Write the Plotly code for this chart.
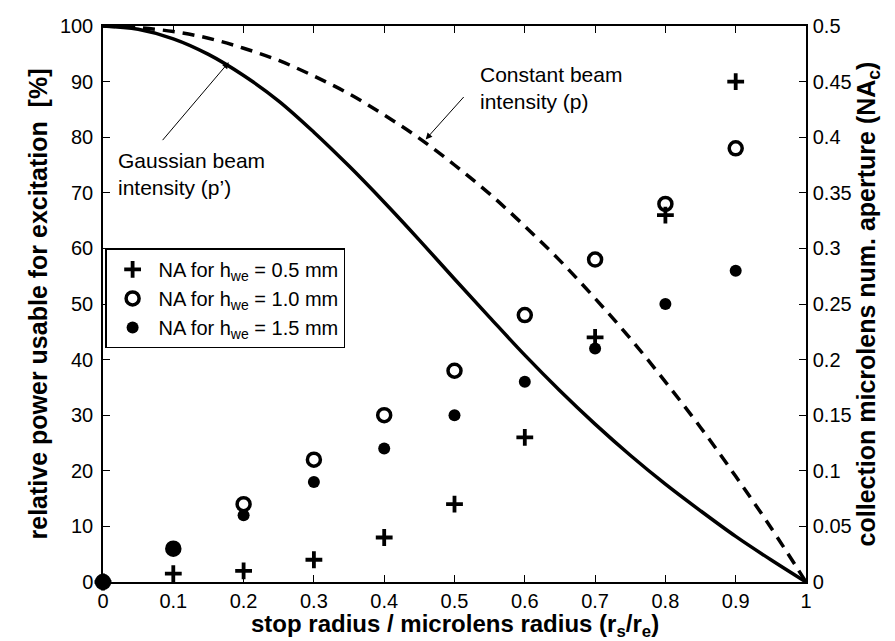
import plotly.graph_objects as go

# ---- data ----
ratio = [0.0, 0.1, 0.2, 0.3, 0.4, 0.5, 0.6, 0.7, 0.8, 0.9]
na_h05 = [0.0, 0.0075, 0.01, 0.02, 0.04, 0.07, 0.13, 0.22, 0.33, 0.45]
na_h10 = [0.0, 0.03, 0.07, 0.11, 0.15, 0.19, 0.24, 0.29, 0.34, 0.39]
na_h15 = [0.0, 0.03, 0.06, 0.09, 0.12, 0.15, 0.18, 0.21, 0.25, 0.28]

curve_x = [0.0, 0.05, 0.1, 0.15, 0.2, 0.25, 0.3, 0.35, 0.4, 0.45, 0.5,
           0.55, 0.6, 0.65, 0.7, 0.75, 0.8, 0.85, 0.9, 0.95, 1.0]
p_constant = [100, 99.7, 99, 97.8, 96, 93.8, 91, 87.8, 84, 79.8, 75,
              69.8, 64, 57.8, 51, 43.8, 36, 27.8, 19, 9.8, 0]
p_gaussian = [100, 99.4, 97.7, 94.9, 91.1, 86.5, 80.9, 74.8, 68.3, 61.5, 54.5,
              47.6, 40.8, 34.4, 28.4, 22.8, 17.6, 12.8, 8.2, 4.0, 0]

x_ticks = [0, 0.1, 0.2, 0.3, 0.4, 0.5, 0.6, 0.7, 0.8, 0.9, 1]
x_ticktext = ["0", "0.1", "0.2", "0.3", "0.4", "0.5", "0.6", "0.7", "0.8", "0.9", "1"]
y_ticks = [0, 10, 20, 30, 40, 50, 60, 70, 80, 90, 100]
y2_ticks = [0, 0.05, 0.1, 0.15, 0.2, 0.25, 0.3, 0.35, 0.4, 0.45, 0.5]
y2_ticktext = ["0", "0.05", "0.1", "0.15", "0.2", "0.25", "0.3", "0.35", "0.4", "0.45", "0.5"]

FONT = "Liberation Sans, Arial, Helvetica, sans-serif"
TICK = 20
TITLE = 25

fig = go.Figure()

fig.add_trace(go.Scatter(x=curve_x, y=p_gaussian, mode="lines", yaxis="y",
                         line=dict(color="black", width=3.5, shape="spline"),
                         showlegend=False, hoverinfo="skip"))
fig.add_trace(go.Scatter(x=curve_x, y=p_constant, mode="lines", yaxis="y",
                         line=dict(color="black", width=3.5, dash="12px,8px", shape="spline"),
                         showlegend=False, hoverinfo="skip"))

fig.add_trace(go.Scatter(x=ratio, y=na_h05, mode="markers", yaxis="y2",
                         name="NA for h<sub>we</sub> = 0.5 mm", cliponaxis=False,
                         marker=dict(symbol="cross-thin", size=12, color="black",
                                     line=dict(color="black", width=3.8))))
fig.add_trace(go.Scatter(x=ratio, y=na_h10, mode="markers", yaxis="y2",
                         name="NA for h<sub>we</sub> = 1.0 mm", cliponaxis=False,
                         marker=dict(symbol="circle-open", size=13, color="black",
                                     line=dict(color="black", width=3.5))))
fig.add_trace(go.Scatter(x=ratio, y=na_h15, mode="markers", yaxis="y2",
                         name="NA for h<sub>we</sub> = 1.5 mm", cliponaxis=False,
                         marker=dict(symbol="circle", size=12, color="black")))

ann_font = dict(family=FONT, size=21, color="black")
axis_common = dict(ticks="inside", ticklen=7, tickcolor="black", tickwidth=1,
                   showline=True, linecolor="black", linewidth=1.5,
                   showgrid=False, zeroline=False, automargin=False,
                   tickfont=dict(family=FONT, size=TICK, color="black"))

fig.update_layout(
    template="none",
    width=895, height=641,
    margin=dict(l=95, r=97, t=18, b=67, autoexpand=False),
    paper_bgcolor="white", plot_bgcolor="white",
    font=dict(family=FONT, size=TICK, color="black"),
    xaxis=dict(range=[0, 1], tickvals=x_ticks, ticktext=x_ticktext, mirror="ticks",
               **axis_common),
    yaxis=dict(range=[0, 100], tickvals=y_ticks, ticklabelstandoff=4,
               title=dict(text="<b>relative power usable for excitation \u00a0[%]</b>",
                          font=dict(family=FONT, size=TITLE), standoff=5),
               **axis_common),
    yaxis2=dict(range=[0, 0.5], tickvals=y2_ticks, ticktext=y2_ticktext,
                overlaying="y", side="right", ticklabelstandoff=1,
                title=dict(text="<b>collection microlens num. aperture (NA<sub>c</sub>)</b>",
                           font=dict(family=FONT, size=TITLE), standoff=6),
                **axis_common),
    legend=dict(x=0.003, y=0.6, xanchor="left", yanchor="top",
                bgcolor="white", bordercolor="black", borderwidth=1.5,
                font=dict(family=FONT, size=20), tracegroupgap=0, itemwidth=42),
    annotations=[
        dict(x=0.5, y=-0.109, xref="paper", yref="paper", xanchor="center", yanchor="bottom",
             showarrow=False, font=dict(family=FONT, size=24, color="black"),
             text="<b>stop radius / microlens radius (r<sub>s</sub>/r<sub>e</sub>)</b>"),
        dict(x=0.179, y=93.5, xref="x", yref="y", ax=0.083, ay=79.2,
             axref="x", ayref="y", text="", showarrow=True,
             arrowhead=2, arrowsize=1.3, arrowwidth=1, arrowcolor="black"),
        dict(x=0.0185, y=73.3, xref="x", yref="y", xanchor="left", yanchor="middle",
             align="left", showarrow=False, font=ann_font,
             text="Gaussian beam<br>intensity (p\u2019)"),
        dict(x=0.459, y=79.6, xref="x", yref="y", ax=0.515, ay=87.5,
             axref="x", ayref="y", text="", showarrow=True,
             arrowhead=2, arrowsize=1.3, arrowwidth=1, arrowcolor="black"),
        dict(x=0.533, y=88.9, xref="x", yref="y", xanchor="left", yanchor="middle",
             align="left", showarrow=False, font=ann_font,
             text="Constant beam<br>intensity (p)"),
    ],
)

fig.write_html("out.html")
